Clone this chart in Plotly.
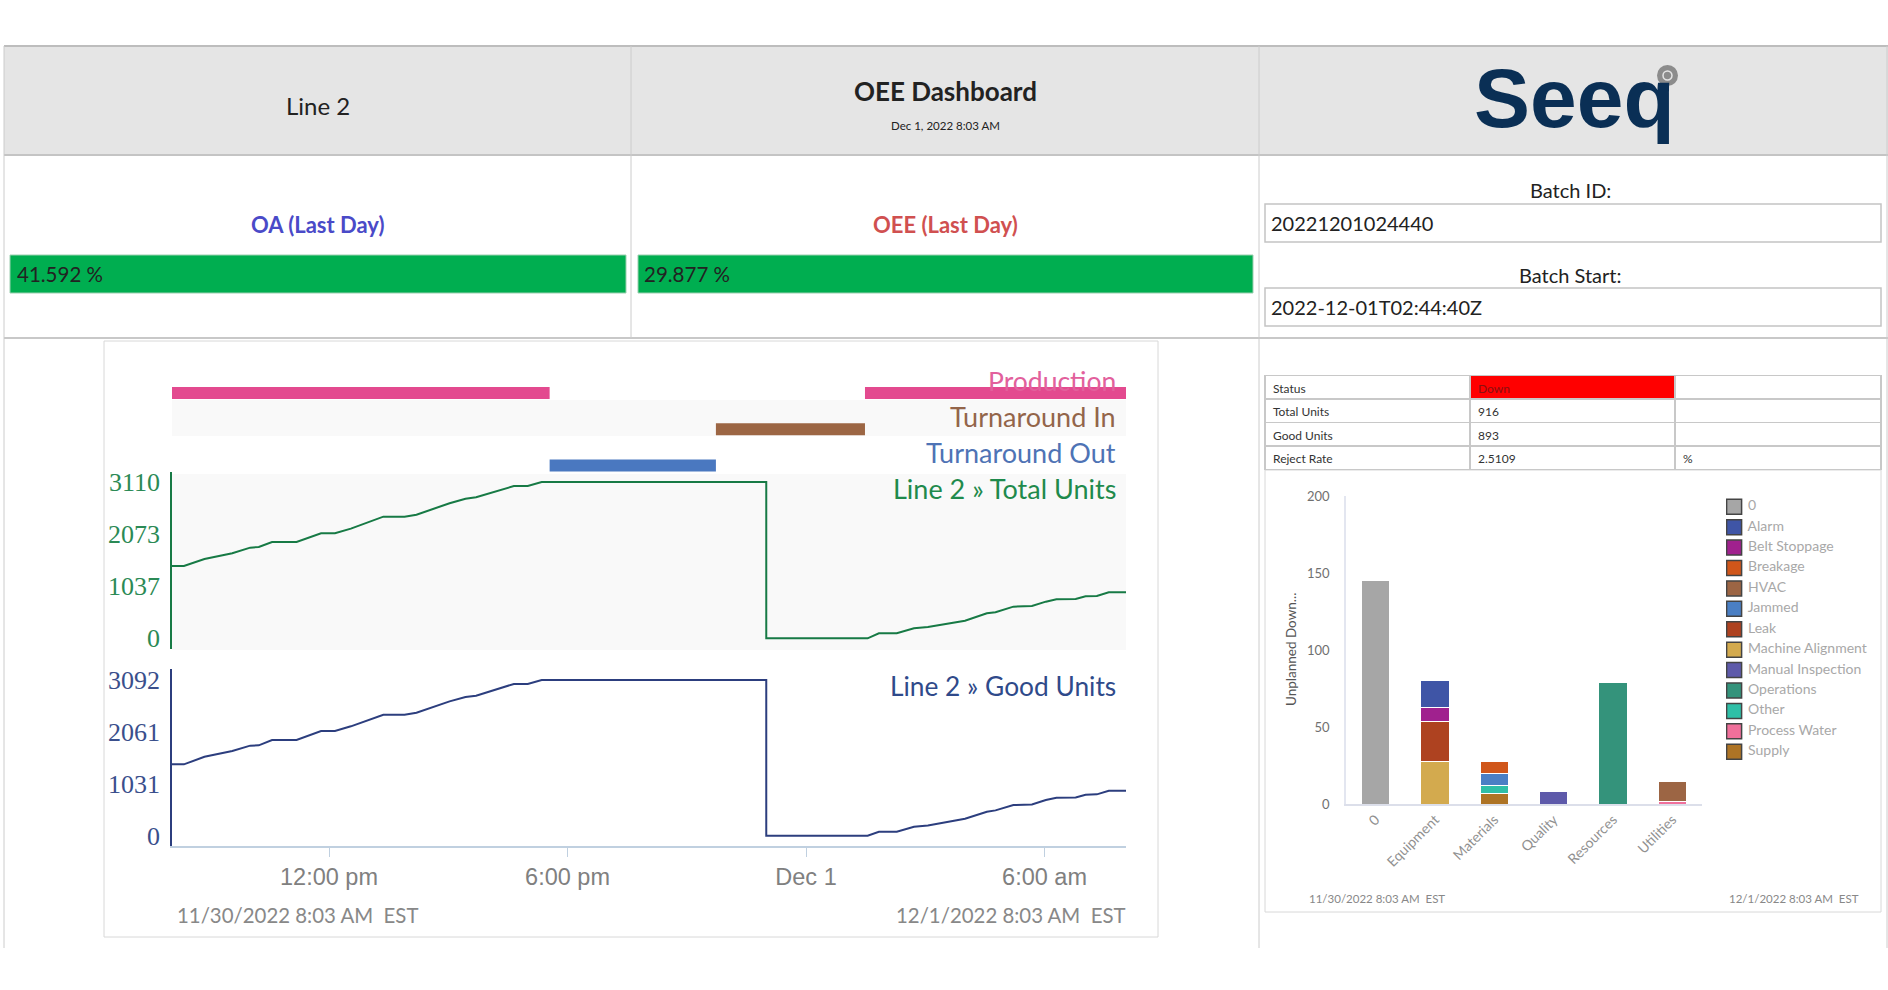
import plotly.graph_objects as go

WIDTH = 1888
HEIGHT = 990

# lane periods
production_spans = [("2022-11-30 08:03", "2022-11-30 17:33"), ("2022-12-01 01:29", "2022-12-01 08:03")]
turnaround_in_spans = [("2022-11-30 21:44", "2022-12-01 01:29")]
turnaround_out_spans = [("2022-11-30 17:33", "2022-11-30 21:44")]

# unit counters
unit_times = [
    "2022-11-30 08:03", "2022-11-30 08:21", "2022-11-30 08:52", "2022-11-30 09:34", "2022-11-30 10:01",
    "2022-11-30 10:14", "2022-11-30 10:34", "2022-11-30 11:11", "2022-11-30 11:48", "2022-11-30 12:09",
    "2022-11-30 12:33", "2022-11-30 13:22", "2022-11-30 13:54", "2022-11-30 14:12", "2022-11-30 15:02",
    "2022-11-30 15:26", "2022-11-30 15:42", "2022-11-30 16:39", "2022-11-30 17:00", "2022-11-30 17:21",
    "2022-11-30 23:00", "2022-11-30 23:00", "2022-12-01 01:33", "2022-12-01 01:50", "2022-12-01 02:17",
    "2022-12-01 02:43", "2022-12-01 03:04", "2022-12-01 03:41", "2022-12-01 04:00", "2022-12-01 04:33",
    "2022-12-01 04:46", "2022-12-01 05:13", "2022-12-01 05:41", "2022-12-01 06:02", "2022-12-01 06:18",
    "2022-12-01 06:47", "2022-12-01 07:02", "2022-12-01 07:19", "2022-12-01 07:37", "2022-12-01 08:03",
]
total_units = [
    1439, 1439, 1578, 1691, 1804, 1817, 1916, 1916, 2089, 2089,
    2182, 2420, 2420, 2460, 2686, 2778, 2805, 3030, 3030, 3110,
    3110, 0, 0, 99, 99, 199, 225, 318, 351, 497,
    517, 630, 643, 729, 776, 782, 836, 842, 916, 916,
]
good_units = [
    1417, 1417, 1569, 1682, 1788, 1794, 1900, 1900, 2079, 2079,
    2172, 2403, 2403, 2443, 2668, 2754, 2781, 3013, 3013, 3092,
    3092, 0, 0, 79, 79, 179, 205, 298, 338, 477,
    503, 609, 622, 708, 755, 761, 814, 821, 893, 893,
]
total_ticks = [0, 1037, 2073, 3110]
good_ticks = [0, 1031, 2061, 3092]
time_ticks = ["2022-11-30 12:00", "2022-11-30 18:00", "2022-12-01 00:00", "2022-12-01 06:00"]
time_labels = ["12:00 pm", "6:00 pm", "Dec 1", "6:00 am"]

# status table
status_labels = ["Status", "Total Units", "Good Units", "Reject Rate"]
status_values = ["Down", "916", "893", "2.5109"]
status_units = ["", "", "", "%"]

# downtime bars
reasons = ["0", "Equipment", "Materials", "Quality", "Resources", "Utilities"]
legend_names = ["0", "Alarm", "Belt Stoppage", "Breakage", "HVAC", "Jammed", "Leak", "Machine Alignment",
                "Manual Inspection", "Operations", "Other", "Process Water", "Supply"]
legend_colors = ["#a6a6a6", "#3f55a6", "#a0218e", "#d0561a", "#9c6544", "#4a7fc4", "#ae4220", "#d3aa4e",
                 "#5e5aaa", "#34937b", "#2fbfa7", "#f0709b", "#ae7425"]
downtime = {
    "0": [145, 0, 0, 0, 0, 0],
    "Alarm": [0, 17, 0, 0, 0, 0],
    "Belt Stoppage": [0, 9, 0, 0, 0, 0],
    "Breakage": [0, 0, 8, 0, 0, 0],
    "HVAC": [0, 0, 0, 0, 0, 13],
    "Jammed": [0, 0, 8, 0, 0, 0],
    "Leak": [0, 26, 0, 0, 0, 0],
    "Machine Alignment": [0, 28, 0, 0, 0, 0],
    "Manual Inspection": [0, 0, 0, 8, 0, 0],
    "Operations": [0, 0, 0, 0, 79, 0],
    "Other": [0, 0, 5, 0, 0, 0],
    "Process Water": [0, 0, 0, 0, 0, 2],
    "Supply": [0, 0, 7, 0, 0, 0],
}


def px(x):
    return x / WIDTH


def py(y):
    return 1 - y / HEIGHT


def dom_y(top, bottom):
    return [py(bottom), py(top)]


def rect(x0, y0, x1, y1, fill="rgba(0,0,0,0)", line="rgba(0,0,0,0)", width=1):
    return dict(type="rect", xref="paper", yref="paper", x0=px(x0), x1=px(x1), y0=py(y0), y1=py(y1),
                fillcolor=fill, line=dict(color=line, width=width), layer="below")


def label(x, y, text, size, color="#222222", anchor="center", family="Lato"):
    return dict(xref="paper", yref="paper", x=px(x), y=py(y), text=text, showarrow=False,
                xanchor=anchor, yanchor="middle", font=dict(family=family, size=size, color=color))


fig = go.Figure()

# lanes
for name, spans, color in [("Production", production_spans, "#e34a8f"),
                           ("Turnaround In", turnaround_in_spans, "#9c6644"),
                           ("Turnaround Out", turnaround_out_spans, "#4a78c0")]:
    for start, end in spans:
        fig.add_trace(go.Scatter(x=[start, end], y=[name, name], mode="lines", yaxis="y",
                                 line=dict(color=color, width=12), showlegend=False))

fig.add_trace(go.Scatter(x=unit_times, y=total_units, mode="lines", yaxis="y2",
                         line=dict(color="#177a45", width=2), showlegend=False))
fig.add_trace(go.Scatter(x=unit_times, y=good_units, mode="lines", yaxis="y3",
                         line=dict(color="#2c3e7e", width=2), showlegend=False))

# stacked in reverse so Alarm ends up on top, like the legend order
for name, color in reversed(list(zip(legend_names, legend_colors))):
    fig.add_trace(go.Bar(x=reasons, y=downtime[name], name=name, xaxis="x2", yaxis="y4",
                         marker=dict(color=color, line=dict(color="white", width=1)), showlegend=False))

fig.add_trace(go.Scatter(x=[0] * len(legend_names), y=legend_names, mode="markers+text", xaxis="x3", yaxis="y5",
                         text=["\u00a0" + n for n in legend_names], textposition="middle right",
                         textfont=dict(family="Lato", size=14, color="#a8a8a8"),
                         marker=dict(symbol="square", size=15, color=legend_colors, line=dict(color="#444444", width=1.5)),
                         showlegend=False))

fig.add_trace(go.Table(
    domain=dict(x=[px(1265), px(1881)], y=dom_y(375.5, 471)),
    columnwidth=[205, 205, 206],
    header=dict(values=[status_labels[0], status_values[0], status_units[0]], height=23.5, align="left",
                fill_color=["white", "#ff0000", "white"], line=dict(color="#c8c8c8", width=1.5),
                font=dict(family="Lato", size=12, color=["#333333", "#8a1010", "#333333"])),
    cells=dict(values=[status_labels[1:], status_values[1:], status_units[1:]], height=23.5, align="left",
               fill_color="white", line=dict(color="#c8c8c8", width=1.5),
               font=dict(family="Lato", size=12, color="#333333")),
))

shapes = [
    rect(4, 46, 1888, 155, fill="#e5e5e5"),
    rect(10, 255, 626, 293, fill="#00ae50", line="#9ccfb0"),
    rect(638, 255, 1253, 293, fill="#00ae50", line="#9ccfb0"),
    rect(1265, 204, 1881, 242, fill="white", line="#c4c4c4", width=1.5),
    rect(1265, 288, 1881, 326, fill="white", line="#c4c4c4", width=1.5),
    rect(104, 341, 1158, 937, line="#d8d8d8"),
    rect(172, 400, 1126, 436, fill="#f9f9f9"),
    rect(172, 474, 1126, 650, fill="#f9f9f9"),
    rect(1265, 470, 1881, 912, line="#d8d8d8"),
]
for y, color, w in [(46, "#bdbdbd", 2), (155, "#c4c4c4", 2), (338, "#c8c8c8", 2)]:
    shapes.append(dict(type="line", xref="paper", yref="paper", x0=px(4), x1=1, y0=py(y), y1=py(y),
                       line=dict(color=color, width=w), layer="below"))
for x, y1 in [(4, 948), (631, 338), (1259, 948), (1887, 948)]:
    shapes.append(dict(type="line", xref="paper", yref="paper", x0=px(x), x1=px(x), y0=py(46), y1=py(y1),
                       line=dict(color="#cccccc", width=1), layer="below"))
# grey mark next to the logo
shapes.append(dict(type="circle", xref="paper", yref="paper", x0=px(1657), x1=px(1678), y0=py(65), y1=py(86),
                   fillcolor="#8c8c8c", line=dict(width=0)))
shapes.append(dict(type="circle", xref="paper", yref="paper", x0=px(1663), x1=px(1672), y0=py(71), y1=py(80),
                   fillcolor="rgba(0,0,0,0)", line=dict(color="#e5e5e5", width=1.5)))

annotations = [
    label(318, 105, "Line 2", 24),
    label(945, 91.5, "<b>OEE Dashboard</b>", 26),
    label(945, 125, "Dec 1, 2022 8:03 AM", 11.5),
    label(1574, 98, "<b>Seeq</b>", 84, color="#0a2f55", family="Liberation Sans"),
    label(318, 224, "<b>OA (Last Day)</b>", 22, color="#4a4ac8"),
    label(945, 224, "<b>OEE (Last Day)</b>", 22, color="#d05050"),
    label(15, 274, "41.592 %", 20.5, anchor="left"),
    label(642, 274, "29.877 %", 20.5, anchor="left"),
    label(1570, 190, "Batch ID:", 20),
    label(1269, 223, "20221201024440", 20, anchor="left"),
    label(1570, 275, "Batch Start:", 20),
    label(1269, 307, "2022-12-01T02:44:40Z", 20, anchor="left"),
    label(1118, 381, "Production", 26.5, color="#e2609c", anchor="right"),
    label(1118, 417, "Turnaround In", 27, color="#93654a", anchor="right"),
    label(1118, 453, "Turnaround Out", 27, color="#4e73b5", anchor="right"),
    label(1118, 489, "Line 2 » Total Units", 27, color="#1f8a4c", anchor="right"),
    label(1118, 686, "Line 2 » Good Units", 26.3, color="#2f4a8a", anchor="right"),
    label(175, 915, "11/30/2022 8:03 AM  EST", 20.4, color="#888888", anchor="left"),
    label(1128, 915, "12/1/2022 8:03 AM  EST", 20.4, color="#888888", anchor="right"),
    label(1307, 898, "11/30/2022 8:03 AM  EST", 11.5, color="#888888", anchor="left"),
    label(1861, 898, "12/1/2022 8:03 AM  EST", 11.5, color="#888888", anchor="right"),
]
annotations.append(dict(xref="paper", yref="paper", x=px(1291), y=py(650), text="Unplanned Down...", showarrow=False,
                        textangle=-90, xanchor="center", yanchor="middle",
                        font=dict(family="Lato", size=13.5, color="#555555")))

fig.update_layout(
    width=WIDTH,
    height=HEIGHT,
    margin=dict(l=0, r=0, t=0, b=0, autoexpand=False),
    paper_bgcolor="white",
    plot_bgcolor="rgba(0,0,0,0)",
    barmode="stack",
    bargap=0.525,
    shapes=shapes,
    annotations=annotations,
    xaxis=dict(domain=[px(172), px(1126)], anchor="y3", type="date",
               range=["2022-11-30 08:03", "2022-12-01 08:03"],
               tickmode="array", tickvals=time_ticks, ticktext=time_labels,
               ticks="outside", ticklen=9, tickcolor="#c0d0e0", showline=True, linecolor="#c0d0e0", linewidth=2,
               showgrid=False, zeroline=False,
               tickfont=dict(family="Liberation Sans", size=23.5, color="#808080")),
    yaxis=dict(domain=dom_y(375, 483.5), anchor="x", type="category", visible=False,
               categoryorder="array", categoryarray=["Turnaround Out", "Turnaround In", "Production"],
               range=[-0.5, 2.5]),
    yaxis2=dict(domain=dom_y(472, 649), anchor="x", range=[-213, 3309],
                tickmode="array", tickvals=total_ticks, showgrid=False, zeroline=False,
                showline=True, linecolor="#177a45", linewidth=1.5, ticks="", ticklabelstandoff=5,
                tickfont=dict(family="Liberation Serif", size=26, color="#2b8a55")),
    yaxis3=dict(domain=dom_y(669, 846), anchor="x", range=[-204, 3310],
                tickmode="array", tickvals=good_ticks, showgrid=False, zeroline=False,
                showline=True, linecolor="#2c3e7e", linewidth=1.5, ticks="", ticklabelstandoff=5,
                tickfont=dict(family="Liberation Serif", size=26, color="#3a4f8c")),
    xaxis2=dict(domain=[px(1346), px(1702)], anchor="y4", tickangle=-45, showgrid=False, zeroline=False,
                showline=True, linecolor="#dcdfea", linewidth=1.5, ticks="", categoryorder="array",
                categoryarray=reasons, tickfont=dict(family="Lato", size=14, color="#909090")),
    yaxis4=dict(domain=dom_y(496, 804.3), anchor="x2", range=[0, 200], tick0=0, dtick=50, showgrid=False,
                zeroline=False, showline=True, linecolor="#e3e6f0", linewidth=1.5, ticks="", ticklabelstandoff=12,
                tickfont=dict(family="Lato", size=13, color="#707070")),
    xaxis3=dict(domain=[px(1726), px(1888)], anchor="y5", range=[-0.05, 0.95], visible=False),
    yaxis5=dict(domain=dom_y(496.5, 762), anchor="x3", type="category", visible=False,
                categoryorder="array", categoryarray=legend_names, range=[12.5, -0.5]),
)

fig.write_html(
    "out.html",
    config={"displayModeBar": False},
    post_script="document.documentElement.style.margin='0';document.body.style.cssText='margin:0;padding:0;overflow:hidden';",
)
